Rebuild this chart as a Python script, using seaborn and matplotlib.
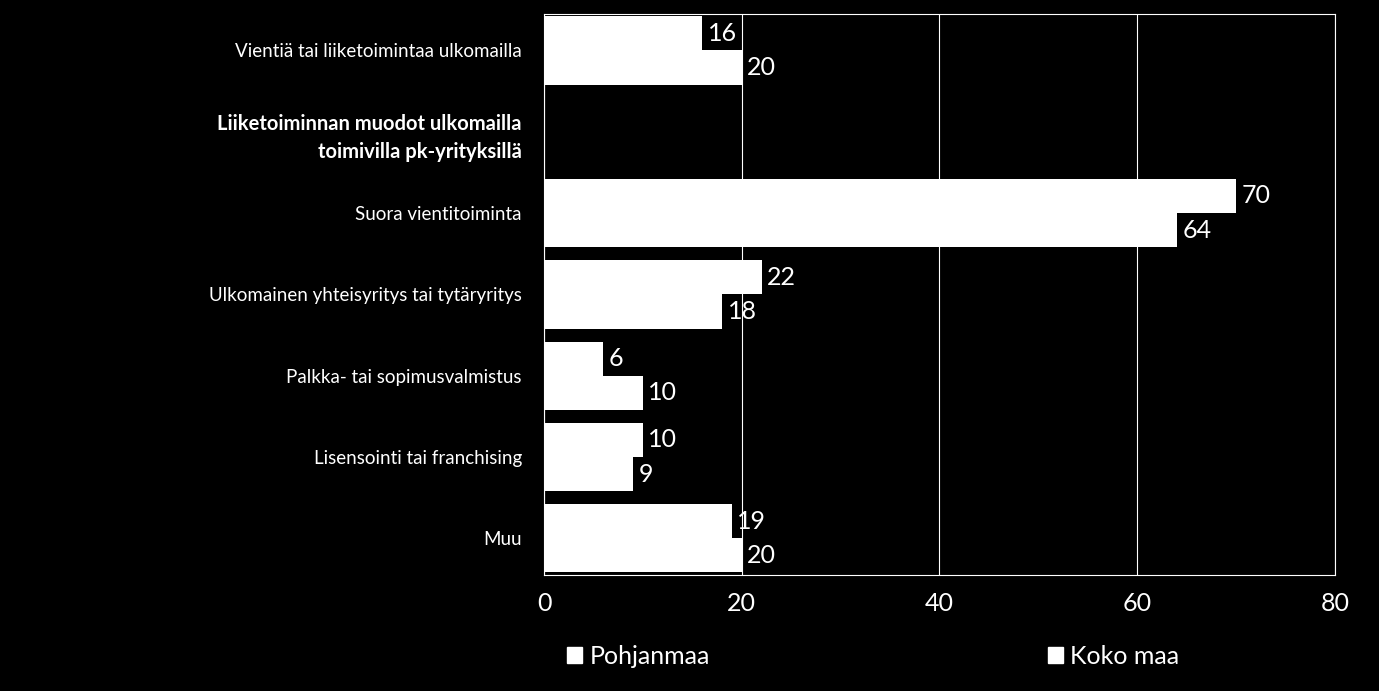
import matplotlib.pyplot as plt
import numpy as np
import pandas as pd
import seaborn as sns
from matplotlib.patches import Patch

categories = [
    "Vientiä tai liiketoimintaa ulkomailla",
    "Liiketoiminnan muodot ulkomailla\ntoimivilla pk-yrityksillä",
    "Suora vientitoiminta",
    "Ulkomainen yhteisyritys tai tytäryritys",
    "Palkka- tai sopimusvalmistus",
    "Lisensointi tai franchising",
    "Muu",
]
pohjanmaa = [16, np.nan, 70, 22, 6, 10, 19]
koko_maa = [20, np.nan, 64, 18, 10, 9, 20]
series = ["Pohjanmaa", "Koko maa"]
x_ticks = [0, 20, 40, 60, 80]

df = pd.DataFrame({
    "cat": categories * 2,
    "value": pohjanmaa + koko_maa,
    "series": [series[0]] * len(categories) + [series[1]] * len(categories),
})

plt.rcParams["font.family"] = "Lato"
fig = plt.figure(figsize=(13.79, 6.91), dpi=100, facecolor="black")
ax = fig.add_axes([0.3945, 0.168, 0.5735, 0.812], facecolor="black")

sns.barplot(data=df, x="value", y="cat", hue="series", order=categories,
            hue_order=series, palette=["white", "white"], orient="h",
            width=0.84, ax=ax, legend=False, saturation=1, edgecolor="none")

for cont in ax.containers:
    labels = ["" if np.isnan(v) else f"{v:.0f}" for v in cont.datavalues]
    ax.bar_label(cont, labels=labels, padding=4, color="white", fontsize=18)

ax.set_xlim(0, 80)
ax.set_ylim(6.45, -0.45)
ax.set_xticks(x_ticks)
ax.set_xlabel("")
ax.set_ylabel("")
ax.grid(axis="x", color="white", lw=0.8)
ax.set_axisbelow(True)
for s in ax.spines.values():
    s.set_color("white")
    s.set_linewidth(0.8)
ax.tick_params(axis="x", colors="white", labelsize=18, length=0, pad=12)
ax.tick_params(axis="y", colors="white", labelsize=13.5, length=0, pad=16)
for lbl in ax.get_yticklabels():
    lbl.set_horizontalalignment("right")
    if lbl.get_text().startswith("Liiketoiminnan"):
        lbl.set_fontweight("bold")
        lbl.set_fontsize(14.5)
        lbl.set_linespacing(1.5)

handles = [Patch(color="white", label=s) for s in series]
fig.legend(handles=handles, loc="center left", bbox_to_anchor=(0.395, 0.05),
           ncol=2, frameon=False, fontsize=18, labelcolor="white",
           handlelength=0.6, handleheight=0.6, handletextpad=0.3,
           columnspacing=13.5)

fig.savefig("out.png", dpi=100, facecolor="black")
